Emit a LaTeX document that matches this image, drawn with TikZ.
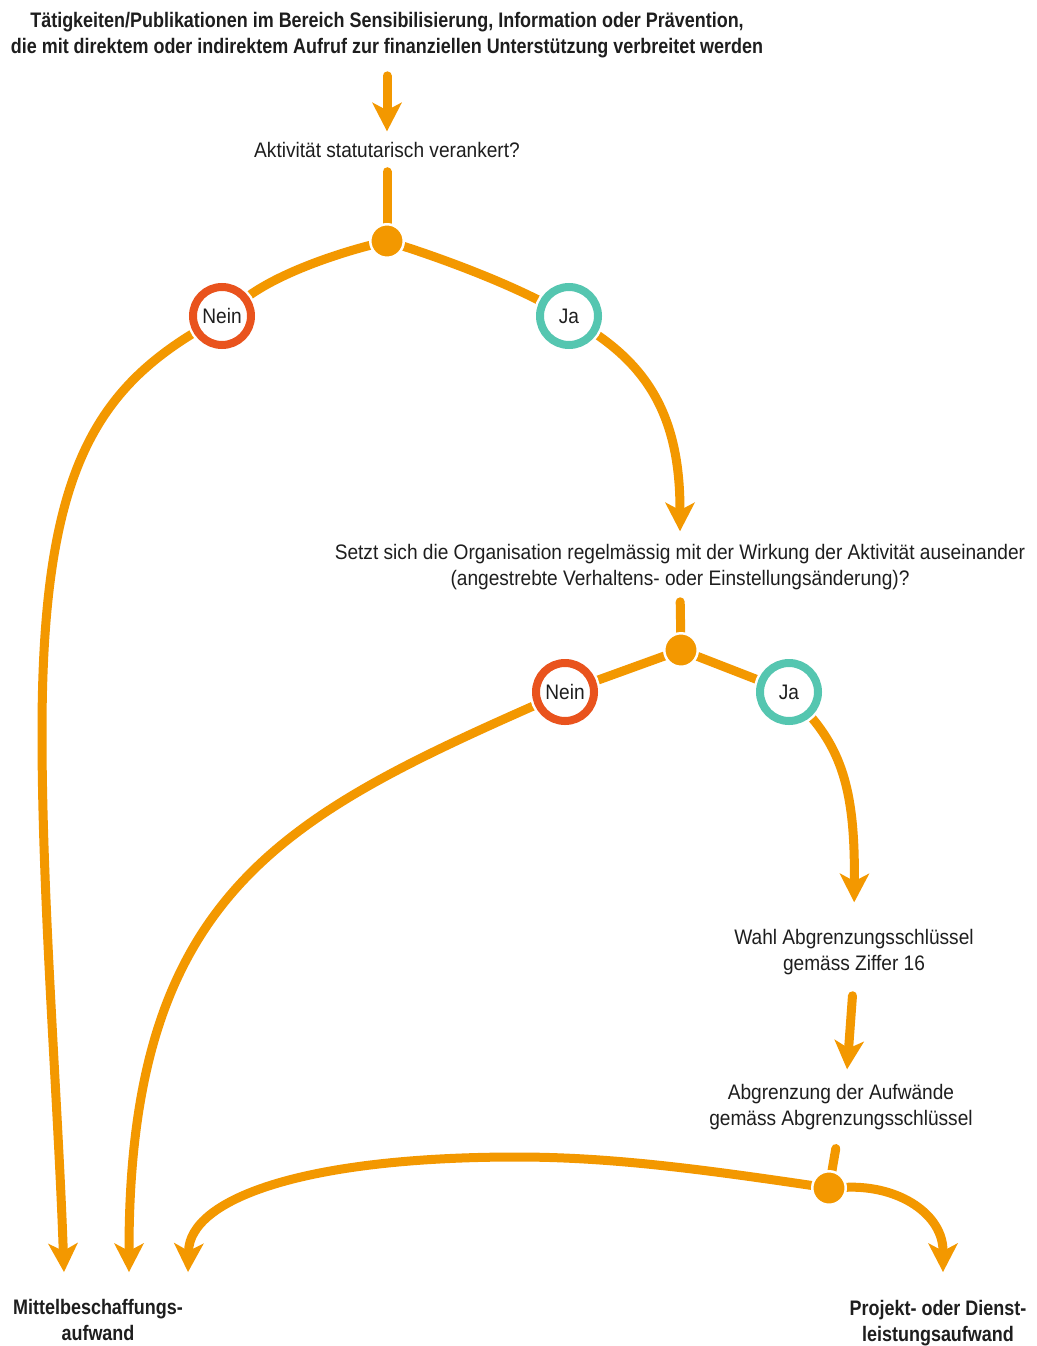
\documentclass[tikz,border=0pt]{standalone}
\usepackage{fontspec}
\setmainfont{Liberation Sans}[FakeStretch=0.91, BoldFeatures={FakeStretch=0.855}]
\usetikzlibrary{arrows.meta}
\pgfdeclarelayer{bg}
\pgfsetlayers{bg,main}
\definecolor{flow}{HTML}{F39800}
\definecolor{nein}{HTML}{E9531D}
\definecolor{ja}{HTML}{55C6B0}
\definecolor{ink}{HTML}{1E1E1E}

\begin{document}
\begin{tikzpicture}[x=1pt,y=-1pt,
  every node/.style={text=ink, font=\fontsize{21}{26}\selectfont},
  txt/.style={align=center, inner sep=0pt, outer sep=0pt},
  hd/.style={txt, font=\fontsize{21}{26}\selectfont\bfseries},
  ringnode/.style={circle, fill=white, draw=#1, line width=8pt, minimum size=58pt,
    inner sep=0pt, outer sep=0pt, preaction={draw=white, line width=13pt}},
  joint/.style={circle, fill=flow, draw=white, line width=2.5pt, minimum size=33.5pt,
    inner sep=0pt, outer sep=0pt},
  flowline/.style={draw=flow, line width=9pt, line cap=round},
  arr/.style={flowline, -{Stealth[length=29pt, width=30pt, inset=8pt, line width=0pt]}},
]
\useasboundingbox (0,0) rectangle (1036,1346);

% texts
\node[hd] (t0) at (387,35) {Tätigkeiten/Publikationen im Bereich Sensibilisierung, Information oder Prävention,\\die mit direktem oder indirektem Aufruf zur finanziellen Unterstützung verbreitet werden};
\node[txt] (q1) at (387,150) {Aktivität statutarisch verankert?};
\node[txt] (q2) at (680,567) {Setzt sich die Organisation regelmässig mit der Wirkung der Aktivität auseinander\\(angestrebte Verhaltens- oder Einstellungsänderung)?};
\node[txt] (w) at (854,952) {Wahl Abgrenzungsschlüssel\\gemäss Ziffer 16};
\node[txt] (a) at (841,1107) {Abgrenzung der Aufwände\\gemäss Abgrenzungsschlüssel};
\node[hd] (m) at (98,1320) {Mittelbeschaffungs-\\aufwand};
\node[hd] (p) at (938,1323) {Projekt- oder Dienst-\\leistungsaufwand};

% branch points and answers
\node[joint] (d1) at (387,241) {};
\node[ringnode=nein] (n1) at (222,316) {Nein};
\node[ringnode=ja] (j1) at (569,316) {Ja};
\node[joint] (d2) at (681,650) {};
\node[ringnode=nein] (n2) at (565,692) {Nein};
\node[ringnode=ja] (j2) at (789,692) {Ja};
\node[joint] (d3) at (829,1188) {};

% arrow ends above the two result labels
\coordinate (m1) at (64,1272);
\coordinate (m2) at (129,1272);
\coordinate (m3) at (188,1272);
\coordinate (p1) at (943,1272);

\begin{pgfonlayer}{bg}
  \fill[white] (0,0) rectangle (1036,1346);
  \draw[arr, shorten <=18pt, shorten >=11pt] (t0.south) -- (q1.north);
  \draw[flowline, shorten <=14pt] (q1.south) -- (d1);
  \draw[flowline] (d1) .. controls (340,253) and (280,272) .. (n1);
  \draw[flowline] (d1) .. controls (440,258) and (500,280) .. (j1);
  \draw[arr] (n1) .. controls (90,395) and (42,483) .. (42,733)
                  .. controls (42,900) and (58,1100) .. (m1);
  \draw[arr, shorten >=13pt] (j1) .. controls (650,370) and (680,420) .. (q2.north);
  \draw[flowline, shorten <=12pt] (q2.south) -- (d2);
  \draw[flowline] (d2) -- (n2);
  \draw[flowline] (d2) -- (j2);
  \draw[arr] (n2) .. controls (280,818) and (129,897) .. (m2);
  \draw[arr, shorten >=27pt] (j2) .. controls (845,755) and (855,800) .. (w.north);
  \draw[arr, shorten <=21pt, shorten >=15pt] (w.south) -- ([xshift=5pt]a.north);
  \draw[flowline, shorten <=19pt] ([xshift=-2pt]a.south) -- (d3);
  \draw[arr] (d3) .. controls (700,1169) and (610,1157) .. (517,1157)
                  .. controls (300,1157) and (190,1200) .. (m3);
  \draw[arr] (d3) .. controls (900,1185) and (943,1215) .. (p1);
\end{pgfonlayer}
\end{tikzpicture}
\end{document}
